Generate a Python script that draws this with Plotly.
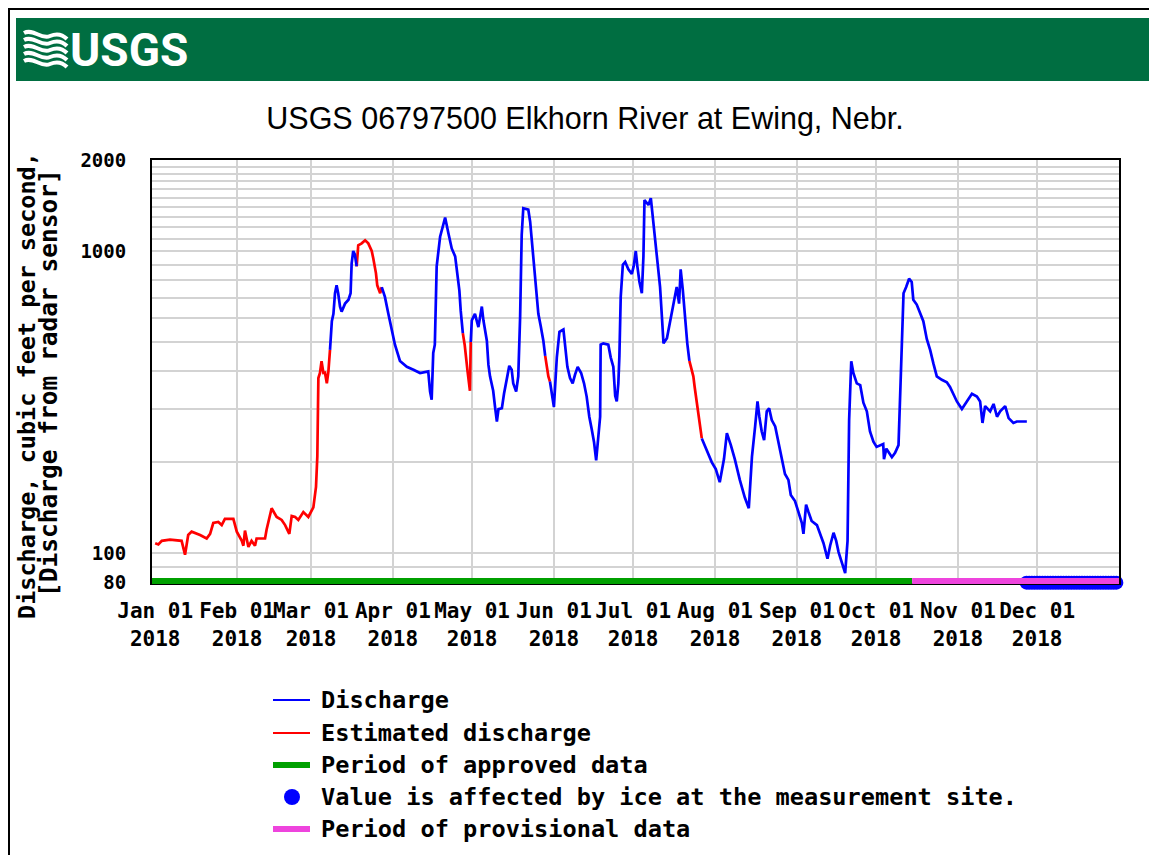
import math
import pandas as pd
import plotly.graph_objects as go

# ---------------- data ----------------
# day offset from 2018-01-01 00:00, discharge in cubic feet per second
day = [0, 1.2, 2.5, 5.6, 10, 11.3, 12.5, 13.8, 17, 19.5, 20.8, 22, 23.9, 25.2, 26.4, 29.6, 30.9, 32.8, 33.4, 34,
       35.3, 36.5, 37.8, 38.4, 41.6, 42.2, 44.1, 46, 47.9, 49.2, 50.8, 51.7, 53, 54.2, 56.1, 58, 59.9, 60.9, 61.4, 61.8,
       62.4, 63, 63.7, 64.3, 65, 65.6,
       66.2, 66.9, 67.5, 68.1, 68.7, 69.3, 70, 70.6, 71.9, 73.2, 74, 74.4, 75, 75.6, 76.3,
       76.9, 78.2, 79.5, 80.7, 82, 82.6, 83.6, 84.1, 85.2,
       85.8, 87, 88.3, 89.6, 90.8, 92.7, 95.3, 97.8, 100.3, 103.4, 104.1, 104.7, 105.3, 105.9, 106.6, 107.9, 109.8, 111,
       112.3, 113.6, 114.4, 115.2, 115.7, 116.5,
       117.2, 118.3, 119.2,
       119.5, 119.9, 121.1, 122.4, 123.7, 124.3, 125.6, 126.2, 126.8, 128, 128.7, 129.4, 130, 131.3, 132.1, 133.1, 134.1,
       135, 135.6, 136.7, 137.5, 138.2, 138.8, 139.4, 141.3, 142, 142.6, 143.5, 144.5, 145.1, 146, 147, 147.7,
       148.3, 148.9,
       149.5, 150.1, 151, 152.1, 153.1, 154.6, 155.2, 156.1, 157.1, 158.1, 159, 160, 161.3, 162.4, 163.4, 164.4, 165.3,
       166.2, 167, 167.8, 168.5, 168.7, 169.7, 171.6, 172.5, 173.5, 174.2, 174.8, 175.4, 175.8, 176.3, 177.1, 178, 179.2,
       180.5, 181.2, 182, 182.6, 183.4, 184.3, 184.9, 185.3, 186.8, 187.7, 188.4, 189.3, 190.2, 191.2, 191.9, 192.5,
       193.8, 195, 195.9, 196.9, 197.5, 198.4, 199, 199.8, 200.6, 201.5, 202.3,
       203, 203.8, 204.3, 205.1, 205.8, 206.4,
       207, 208.9, 210.8, 212.3, 213.8, 215.4, 216.5, 218, 219.5, 221.4, 223.3, 224.8, 225.3, 226, 227.2, 228.1, 228.8,
       229.7, 230.6, 231.6, 232.5, 233.5, 234.8, 236, 237.3, 238.5, 239.8, 240.7, 242.3, 243.6, 244.9, 245.5, 246.5,
       247.4, 248.6, 250.6, 251.8, 253.1, 254.6, 255.6, 256.9, 257.9, 258.8, 260, 261.3, 262.2, 262.8, 263.6, 264.4,
       265.7, 267, 268.2, 269.5, 270.7, 272, 273.2, 275.7, 276, 276.9, 279, 280.2, 281.5, 282.1, 282.8, 283.4, 284.4,
       285.5, 286.5, 287.1, 288.4, 289.7, 290.9, 292.2, 293.5, 294.7, 296, 297.9, 299.8, 301, 302.3, 303.6, 305.5,
       307.4, 309.3, 311.2, 312.4, 313.3, 314.3, 316.2, 317.5, 318.8, 320, 321.9, 323.2, 325, 326.3, 330.1]

cfs = [108, 107, 110, 111, 110, 99, 115, 118, 115, 112, 116, 126, 127, 124, 130, 130, 118, 110, 106, 119,
       105, 110, 106, 112, 112, 120, 141, 132, 129, 124, 116, 133, 132, 129, 137, 132, 142, 166, 209, 380,
       395, 432, 395, 396, 365, 400,
       471, 586, 620, 725, 770, 725, 655, 630, 670, 690, 725, 910, 1000, 975, 890,
       1045, 1060, 1085, 1060, 1000, 945, 845, 770, 725,
       760, 705, 620, 545, 490, 433, 414, 405, 395, 400, 343, 322, 460, 490, 890, 1115, 1290, 1150,
       1020, 960, 845, 740, 635, 535,
       490, 400, 345,
       500, 590, 620, 560, 655, 590, 505, 420, 385, 345, 305, 273, 300, 302, 337, 370, 417,
       405, 365, 343, 385, 605, 1130, 1385, 1370, 1250, 1100, 900, 735, 620, 565, 505, 450,
       410, 385,
       370, 345, 305, 445, 540, 550, 495, 414, 380, 365, 390, 414, 395, 365, 330, 283, 258,
       233, 203, 240, 283, 490, 495, 490, 445, 414, 332, 318, 365, 450, 705, 900, 920, 870,
       840, 890, 1000, 890, 790, 725, 960, 1475, 1420, 1495, 1300, 1130, 935, 760, 605, 495,
       515, 590, 655, 725, 760, 670, 870, 745, 605, 495, 433,
       410, 385, 355, 315, 285, 258,
       240, 220, 200, 190, 172, 205, 250, 228, 205, 175, 153, 141, 166, 209, 263, 318, 283,
       253, 237, 295, 302, 276, 263, 234, 209, 183, 175, 156, 149, 137, 126, 116, 145,
       137, 128, 124, 116, 108, 96, 106, 117, 110, 101, 93, 86, 110, 276, 432, 395,
       365, 360, 315, 295, 253, 234, 225, 230, 205, 222, 208, 215, 228, 322, 530, 725, 760,
       810, 790, 690, 665, 620, 586, 512, 470, 425, 385, 375, 368, 355, 337, 318, 300,
       318, 337, 330, 318, 270, 307, 295, 312, 283, 295, 307, 280, 270, 273, 273]

# periods (day offsets) where the discharge is estimated
estimated_periods = [(0, 65.6), (76.9, 85.2), (117.2, 119.2), (148.3, 148.9), (203.0, 206.4)]

approved_period = ["2017-12-28", "2018-10-14 16:00"]
provisional_period = ["2018-10-14 16:00", "2019-01-01"]
ice_period = ["2018-11-27", "2018-12-31 16:00"]
ice_level = 80  # ice flags are drawn along the bottom of the chart

month_ticks = ["2018-01-01", "2018-02-01", "2018-03-01", "2018-04-01", "2018-05-01", "2018-06-01",
               "2018-07-01", "2018-08-01", "2018-09-01", "2018-10-01", "2018-11-01", "2018-12-01"]
month_labels = ["Jan 01<br>2018", "Feb 01<br>2018", "Mar 01<br>2018", "Apr 01<br>2018", "May 01<br>2018",
                "Jun 01<br>2018", "Jul 01<br>2018", "Aug 01<br>2018", "Sep 01<br>2018", "Oct 01<br>2018",
                "Nov 01<br>2018", "Dec 01<br>2018"]
y_grid = [80, 90, 100, 200, 300, 400, 500, 600, 700, 800, 900, 1000,
          1100, 1200, 1300, 1400, 1500, 1600, 1700, 1800, 1900, 2000]
y_labeled = {80: "80", 100: "100", 1000: "1000", 2000: "2000"}

legend_labels = ["Discharge", "Estimated discharge", "Period of approved data",
                 "Value is affected by ice at the measurement site.", "Period of provisional data"]

# ---------------- build ----------------
assert len(day) == len(cfs)
base = pd.Timestamp("2018-01-01")
dates = [base + pd.Timedelta(days=d) for d in day]
is_est = [any(a <= d <= b for a, b in estimated_periods) for d in day]
n = len(day)
blue_y = [v if not is_est[i] else None for i, v in enumerate(cfs)]
red_y = [v if (is_est[i] or (i > 0 and is_est[i - 1]) or (i < n - 1 and is_est[i + 1])) else None
         for i, v in enumerate(cfs)]
ice_dates = list(pd.date_range(ice_period[0], ice_period[1], freq="D"))

MONO = "DejaVu Sans Mono"
BLUE, RED, GREEN, PINK = "#0000FF", "#FF0000", "#00A000", "#EE44DD"

# page offset of the plotly div (body margin)
OFF = 8
W, H = 1157 - 2 * OFF, 863 - 2 * OFF
L, R, T, B = 152 - OFF, 1119 - OFF, 160 - OFF, 583 - OFF


def px(x):
    """page x pixel -> paper fraction"""
    return (x - OFF - L) / (R - L)


def py(y):
    """page y pixel -> paper fraction"""
    return (B - (y - OFF)) / (B - T)


fig = go.Figure()
fig.add_trace(go.Scatter(x=ice_dates, y=[ice_level] * len(ice_dates), mode="markers",
                         name=legend_labels[3],
                         marker=dict(color=BLUE, size=14, line=dict(width=0)),
                         cliponaxis=False, hoverinfo="x"))
fig.add_trace(go.Scatter(x=dates, y=red_y, mode="lines", name=legend_labels[1],
                         line=dict(color=RED, width=2.7)))
fig.add_trace(go.Scatter(x=dates, y=blue_y, mode="lines", name=legend_labels[0],
                         line=dict(color=BLUE, width=2.7)))

band_y = 2.0 / (B - T)
shapes = [
    dict(type="line", xref="x", yref="paper", x0=approved_period[0], x1=approved_period[1],
         y0=band_y, y1=band_y, line=dict(color=GREEN, width=6), layer="above"),
    dict(type="line", xref="x", yref="paper", x0=provisional_period[0], x1=provisional_period[1],
         y0=band_y, y1=band_y, line=dict(color=PINK, width=6), layer="above"),
    # header bar
    dict(type="rect", xref="paper", yref="paper", x0=px(16), x1=px(1160), y0=py(81), y1=py(18),
         fillcolor="#006E41", line=dict(width=0)),
    # page frame
    dict(type="line", xref="paper", yref="paper", x0=px(8), x1=px(1160), y0=py(9), y1=py(9),
         line=dict(color="black", width=2)),
    dict(type="line", xref="paper", yref="paper", x0=px(9), x1=px(9), y0=py(8), y1=py(870),
         line=dict(color="black", width=2)),
]
# USGS wave mark
for y0 in [33, 40, 47, 54, 61]:
    path = (f"M {px(24)},{py(y0)} C {px(33)},{py(y0 - 5)} {px(41)},{py(y0 + 7)} {px(50)},{py(y0 + 3)} "
            f"C {px(57)},{py(y0)} {px(62)},{py(y0 + 1)} {px(67)},{py(y0 + 6)}")
    shapes.append(dict(type="path", xref="paper", yref="paper", path=path,
                       line=dict(color="white", width=4)))

annotations = [
    dict(text="USGS", xref="paper", yref="paper", x=px(68), y=py(50), xanchor="left", yanchor="middle",
         showarrow=False, font=dict(family="Roboto, Liberation Sans", size=46, color="white", weight="bold")),
    dict(text="Discharge, cubic feet per second,", xref="paper", yref="paper", x=px(27), y=py(386),
         xanchor="center", yanchor="middle", textangle=-90, showarrow=False,
         font=dict(family=MONO, size=23.5, color="black", weight="bold")),
    dict(text="[Discharge from radar sensor]", xref="paper", yref="paper", x=px(48), y=py(383),
         xanchor="center", yanchor="middle", textangle=-90, showarrow=False,
         font=dict(family=MONO, size=24.5, color="black", weight="bold")),
]

# hand-built legend (keeps the plot area fixed)
legend_rows = [700, 733, 765, 797, 829]
legend_styles = [("line", BLUE, 2), ("line", RED, 2), ("line", GREEN, 6), ("dot", BLUE, 8), ("line", PINK, 6)]
for row_y, label, (kind, col, w) in zip(legend_rows, legend_labels, legend_styles):
    if kind == "line":
        shapes.append(dict(type="line", xref="paper", yref="paper", x0=px(273), x1=px(310),
                           y0=py(row_y), y1=py(row_y), line=dict(color=col, width=w)))
    else:
        shapes.append(dict(type="circle", xref="paper", yref="paper", x0=px(292 - w), x1=px(292 + w),
                           y0=py(row_y + w), y1=py(row_y - w), fillcolor=col, line=dict(width=0)))
    annotations.append(dict(text=label, xref="paper", yref="paper", x=px(319), y=py(row_y),
                            xanchor="left", yanchor="middle", showarrow=False,
                            font=dict(family=MONO, size=23.6, color="black", weight="bold")))

fig.update_layout(
    width=W, height=H,
    margin=dict(l=L, r=W - R, t=T, b=H - B, autoexpand=False),
    paper_bgcolor="white", plot_bgcolor="white",
    title=dict(text="USGS 06797500 Elkhorn River at Ewing, Nebr.", xref="container", yref="container",
               x=(585 - OFF) / W, y=1 - (118 - OFF) / H, xanchor="center", yanchor="middle",
               font=dict(family="Liberation Sans", size=30.5, color="black")),
    shapes=shapes,
    annotations=annotations,
    showlegend=False,
    xaxis=dict(type="date", range=["2017-12-30 19:00", "2019-01-01 00:00"],
               tickmode="array", tickvals=month_ticks, ticktext=month_labels, tickangle=0,
               showgrid=False, ticks="", ticklabelstandoff=8,
               tickfont=dict(family=MONO, size=21, color="black", weight="bold"),
               minor=dict(tickmode="array", tickvals=month_ticks[1:], showgrid=True,
                          gridcolor="#D3D3D3", gridwidth=1.8, ticks=""),
               showline=True, linecolor="black", linewidth=2, mirror=True, zeroline=False),
    yaxis=dict(type="log", range=[math.log10(79.8), math.log10(2000)],
               tickmode="array", tickvals=y_grid, ticktext=[y_labeled.get(v, "") for v in y_grid],
               showgrid=True, gridcolor="#D3D3D3", gridwidth=1.8, ticks="", ticklabelstandoff=20,
               tickfont=dict(family=MONO, size=19, color="black", weight="bold"),
               showline=True, linecolor="black", linewidth=2, mirror=True, zeroline=False),
)

fig.write_html("out.html")
